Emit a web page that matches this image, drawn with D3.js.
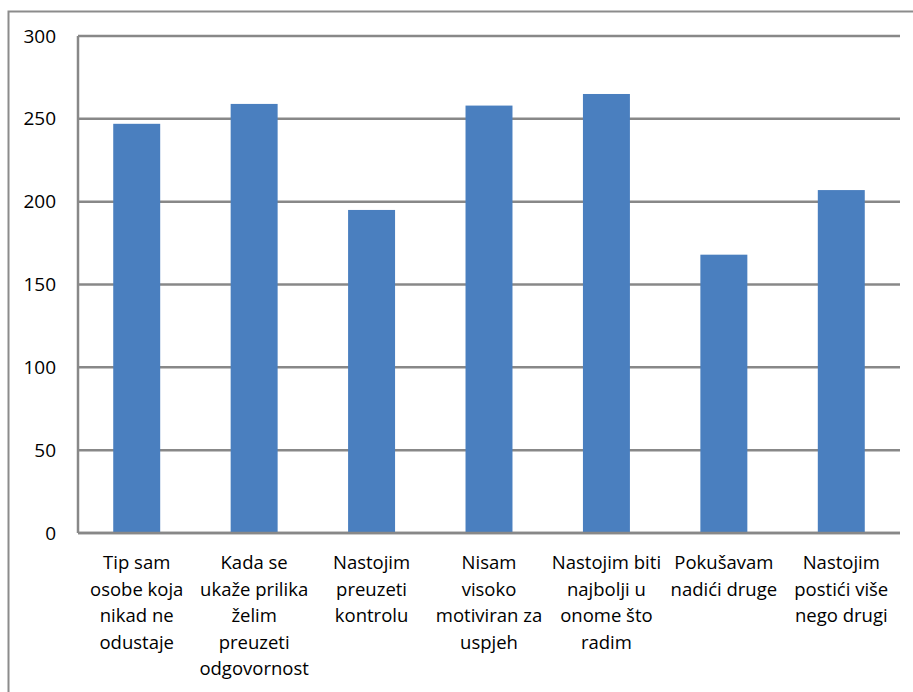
<!DOCTYPE html>
<html>
<head>
<meta charset="utf-8">
<script src="https://cdn.jsdelivr.net/npm/d3@7"></script>
<style>
  body { margin: 0; background: #fff; }
  #chart text { font-family: "Open Sans", "Noto Sans", sans-serif; fill: #000; }
</style>
</head>
<body>
<div id="chart"></div>
<script>
// categories (already split into lines as in the picture)
const categories = [
  ['Tip sam', 'osobe koja', 'nikad ne', 'odustaje'],
  ['Kada se', 'ukaže prilika', 'želim', 'preuzeti', 'odgovornost'],
  ['Nastojim', 'preuzeti', 'kontrolu'],
  ['Nisam', 'visoko', 'motiviran za', 'uspjeh'],
  ['Nastojim biti', 'najbolji u', 'onome što', 'radim'],
  ['Pokušavam', 'nadići druge'],
  ['Nastojim', 'postići više', 'nego drugi']
];
const values = [247, 259, 195, 258, 265, 168, 207];
const yTicks = [0, 50, 100, 150, 200, 250, 300];

const width = 913;
const height = 692;
const margin = { top: 36, right: 13, bottom: 159, left: 78 };

const svg = d3.select('#chart').append('svg')
  .attr('width', width)
  .attr('height', height);

// outer chart border
svg.append('rect')
  .attr('x', 8.5)
  .attr('y', 11.5)
  .attr('width', width + 20)
  .attr('height', height + 20)
  .attr('fill', 'none')
  .attr('stroke', '#8c8c8c')
  .attr('stroke-width', 2);

const idx = d3.range(categories.length);

const xScale = d3.scaleBand()
  .domain(idx)
  .range([margin.left, width - margin.right])
  .paddingInner(0.6)
  .paddingOuter(0.3);

const yScale = d3.scaleLinear()
  .domain([0, 300])
  .range([height - margin.bottom, margin.top]);

// gridlines
svg.append('g')
  .selectAll('line')
  .data(yTicks)
  .enter()
  .append('line')
  .attr('x1', margin.left)
  .attr('x2', width - margin.right)
  .attr('y1', d => yScale(d))
  .attr('y2', d => yScale(d))
  .attr('stroke', '#888')
  .attr('stroke-width', 2.5);

// left axis line
svg.append('line')
  .attr('x1', margin.left)
  .attr('x2', margin.left)
  .attr('y1', yScale(300))
  .attr('y2', yScale(0))
  .attr('stroke', '#888')
  .attr('stroke-width', 2.5);

// bars
svg.selectAll('rect.bar')
  .data(values)
  .enter()
  .append('rect')
  .attr('class', 'bar')
  .attr('x', (d, i) => xScale(i))
  .attr('y', d => yScale(d))
  .attr('width', xScale.bandwidth())
  .attr('height', d => yScale(0) - yScale(d))
  .attr('fill', '#4a7fbf');

// bottom axis line over bars
svg.append('line')
  .attr('x1', margin.left)
  .attr('x2', width - margin.right)
  .attr('y1', yScale(0))
  .attr('y2', yScale(0))
  .attr('stroke', '#888')
  .attr('stroke-width', 2.5);

// y axis labels
const yAxis = svg.append('g')
  .attr('transform', `translate(${margin.left}, 0)`)
  .call(d3.axisLeft(yScale).tickValues(yTicks).tickSize(0).tickPadding(22));
yAxis.select('.domain').remove();
yAxis.selectAll('text')
  .style('font-size', '19px')
  .style('font-family', '"Open Sans", "Noto Sans", sans-serif')
  .attr('fill', '#000');

// category labels
const labels = svg.append('g')
  .selectAll('text')
  .data(categories)
  .enter()
  .append('text')
  .attr('text-anchor', 'middle')
  .style('font-size', '18.5px')
  .attr('x', (d, i) => xScale(i) + xScale.bandwidth() / 2);

labels.selectAll('tspan')
  .data(d => d)
  .enter()
  .append('tspan')
  .attr('x', function () { return d3.select(this.parentNode).attr('x'); })
  .attr('y', (d, j) => yScale(0) + 36 + j * 26.5)
  .text(d => d);
</script>
</body>
</html>
